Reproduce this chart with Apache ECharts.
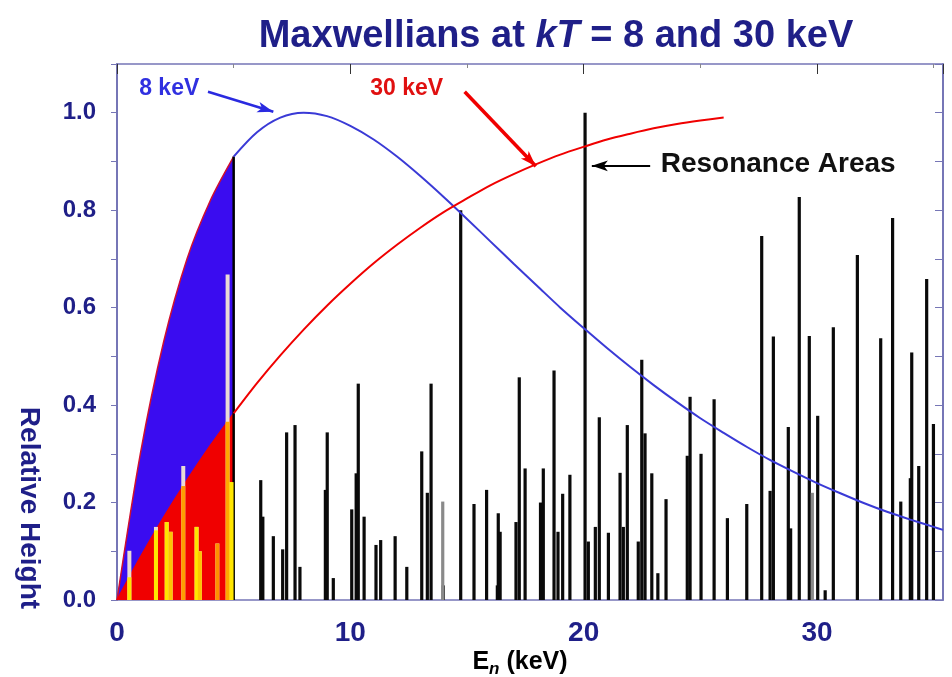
<!DOCTYPE html>
<html><head><meta charset="utf-8">
<script src="https://cdn.jsdelivr.net/npm/echarts@6/dist/echarts.min.js"></script>
<style>html,body{margin:0;padding:0;background:#fff}#c{width:952px;height:677px}</style>
</head><body><div id="c"></div>
<script>
// ---- data ----
const curveE   = [0,1,2,3,4,5,6,7,8,9,10,11,12,13,14,15,16,17,18,19,20,21,22,23,24,25,26,27,28,29,30,31,32,33,34,35,35.4];
const maxw8keV = [0,0.30,0.53,0.70,0.82,0.91,0.96,0.99,1.0,0.993,0.973,0.945,0.91,0.87,0.827,0.782,0.736,0.69,0.645,0.60,0.558,0.517,0.478,0.441,0.406,0.373,0.343,0.314,0.287,0.263,0.24,0.219,0.199,0.181,0.165,0.15,0.144];
const curve30E  = [0,1,2,3,4,5,6,7,8,9,10,11,12,13,14,15,16,17,18,19,20,21,22,23,24,25,26];
const maxw30keV = [0,0.088,0.17,0.246,0.317,0.383,0.445,0.502,0.555,0.604,0.649,0.691,0.729,0.764,0.796,0.824,0.851,0.874,0.895,0.914,0.93,0.945,0.957,0.968,0.977,0.984,0.99];
const fillLimitE = 5;           // shaded region 0..5 keV
const edgeHeight = 0.91;        // black boundary line at 5 keV

// low-energy resonances (yellow)
const lowResE = [0.53,1.67,2.13,2.30,2.84,3.41,3.55,4.30,4.74,4.91];
const lowResH = [0.101,0.150,0.160,0.140,0.275,0.150,0.100,0.116,0.668,0.242];

// resonances above 5 keV (black)
const resE = [6.16,6.25,6.70,7.10,7.27,7.63,7.84,8.93,9.01,9.27,10.06,10.25,10.34,10.59,11.10,11.30,11.92,12.42,13.06,13.30,13.46,13.98,14.73,15.30,15.84,16.30,16.34,16.42,17.10,17.24,17.49,18.15,18.27,18.73,18.90,19.10,19.41,20.06,20.20,20.50,20.67,21.06,21.56,21.70,21.87,22.34,22.49,22.63,22.92,23.18,23.53,24.44,24.56,25.03,25.59,26.16,26.99,27.63,27.99,28.13,28.77,28.87,29.24,29.67,30.03,30.35,30.70,31.73,32.73,33.24,33.59,34.00,34.06,34.36,34.70,34.99];
const resH = [0.246,0.171,0.131,0.104,0.344,0.359,0.068,0.226,0.344,0.045,0.186,0.26,0.444,0.171,0.113,0.123,0.131,0.068,0.305,0.22,0.444,0.03,0.80,0.197,0.226,0.03,0.178,0.14,0.16,0.457,0.270,0.20,0.270,0.471,0.14,0.218,0.257,1.0,0.12,0.15,0.375,0.138,0.261,0.15,0.359,0.120,0.493,0.342,0.260,0.055,0.207,0.296,0.417,0.300,0.412,0.168,0.197,0.747,0.224,0.541,0.355,0.147,0.827,0.542,0.378,0.02,0.560,0.708,0.537,0.784,0.202,0.25,0.508,0.275,0.659,0.361];
// faint (grey) resonances
const greyResE = [13.96,29.80];
const greyResH = [0.202,0.22];

// tick labels
const xTicks = [0,10,20,30];
const yTicks = [0.0,0.2,0.4,0.6,0.8,1.0];

// ---- styles (kept apart from data) ----
const AX = '#7676b6', NAVY = '#1f1f88';
const BLUE_FILL = '#3a0cf0', BLUE_LINE = '#3a3ad6', RED = '#f00000';
const lowResColors = ['#ffe600','#ffe600','#ffe600','#ffc400','#ff9c00','#ffe600','#ffc400','#ff9000','#ffa800','#ffe600'];
const FONT = '"Liberation Sans",Arial,sans-serif';

const chart = echarts.init(document.getElementById('c'), null, {renderer:'canvas'});

const pts8 = curveE.map((e,i)=>[e,maxw8keV[i]]);
const pts30 = curve30E.map((e,i)=>[e,maxw30keV[i]]);
function interp30(e){
  for(let i=1;i<curve30E.length;i++){
    if(e<=curve30E[i]){const t=(e-curve30E[i-1])/(curve30E[i]-curve30E[i-1]);return maxw30keV[i-1]+t*(maxw30keV[i]-maxw30keV[i-1]);}
  }
  return maxw30keV[maxw30keV.length-1];
}
function barSeries(name, data, width, colorFn, z){
  return {type:'custom', name, clip:true, z, silent:true, xAxisIndex:0, yAxisIndex:0,
    data, encode:{x:0,y:1},
    renderItem:(params, api)=>{
      const x=api.value(0), h=api.value(1);
      const p0=api.coord([x,0]), p1=api.coord([x,h]);
      return {type:'rect', shape:{x:p0[0]-width/2, y:p1[1], width, height:p0[1]-p1[1]},
        style:{fill: colorFn(params.dataIndex)}};
    }};
}

const option = {
  animation:false,
  backgroundColor:'#fff',
  title:{
    text:'{a|Maxwellians at }{b|kT}{a| = 8 and 30 keV}',
    left:551, top:13, textAlign:'center',
    textStyle:{rich:{
      a:{fontFamily:FONT,fontWeight:'bold',fontSize:38,color:NAVY},
      b:{fontFamily:FONT,fontWeight:'bold',fontStyle:'italic',fontSize:38,color:NAVY}
    }}
  },
  grid:{left:117, right:9, top:64, bottom:77, containLabel:false},
  xAxis:[
    {type:'value', position:'bottom', min:0, max:35.4, interval:10,
     axisLine:{show:true,onZero:false,lineStyle:{color:AX,width:1.5}},
     axisTick:{show:false}, splitLine:{show:false},
     axisLabel:{margin:19, color:NAVY, fontFamily:FONT, fontWeight:'bold', fontSize:28, showMaxLabel:false,
       formatter:v=> xTicks.includes(v)? String(v):''}},
    {type:'value', position:'top', min:0, max:35.4, interval:10,
     axisLine:{show:true,onZero:false,lineStyle:{color:AX,width:1.5}},
     axisTick:{show:true,inside:true,length:10,lineStyle:{color:'#333',width:1}},
     minorTick:{show:true,splitNumber:2,length:4,lineStyle:{color:'#888'}},
     axisLabel:{show:false}, splitLine:{show:false}}
  ],
  yAxis:[
    {type:'value', position:'left', min:0, max:1.1, interval:0.2,
     axisLine:{show:true,onZero:false,lineStyle:{color:AX,width:2}},
     axisTick:{show:true,inside:false,length:6,lineStyle:{color:AX}},
     minorTick:{show:true,splitNumber:2,length:6,lineStyle:{color:AX}},
     splitLine:{show:false},
     axisLabel:{margin:21, color:NAVY, fontFamily:FONT, fontWeight:'bold', fontSize:24, showMaxLabel:false,
       formatter:v=>{const f=yTicks.find(t=>Math.abs(t-v)<1e-6);return f===undefined?'':f.toFixed(1);}}},
    {type:'value', position:'right', min:0, max:1.1, interval:0.1,
     axisLine:{show:true,onZero:false,lineStyle:{color:AX,width:2}},
     axisTick:{show:true,inside:true,length:8,lineStyle:{color:AX}},
     axisLabel:{show:false}, splitLine:{show:false}}
  ],
  series:[
    {type:'line', name:'8 keV fill', data:pts8.filter(p=>p[0]<=fillLimitE), smooth:0.3, showSymbol:false, z:1,
     lineStyle:{color:'#d01030',width:1.5}, areaStyle:{color:BLUE_FILL,opacity:1}, silent:true},
    {type:'line', name:'30 keV fill', data:pts30.filter(p=>p[0]<=fillLimitE), smooth:0.3, showSymbol:false, z:1,
     lineStyle:{color:RED,width:1.5}, areaStyle:{color:RED,opacity:1}, silent:true},
    barSeries('low res pale', lowResE.map((e,i)=>[e,lowResH[i]]), 4, ()=> '#eadbd6', 2),
    barSeries('low res', lowResE.map((e,i)=>[e,Math.min(lowResH[i], interp30(e))]), 4, i=>lowResColors[i], 2),
    barSeries('edge', [[fillLimitE, edgeHeight]], 2.5, ()=> '#000', 2),
    barSeries('low res edge', [[lowResE[lowResE.length-1], lowResH[lowResH.length-1]]], 4, ()=> '#ffe600', 2),
    barSeries('resonances', resE.map((e,i)=>[e,resH[i]]), 3.2, ()=> '#0a0a0a', 2),
    barSeries('grey resonances', greyResE.map((e,i)=>[e,greyResH[i]]), 3.2, ()=> '#8a8a8a', 2),
    {type:'line', name:'8 keV', data:pts8.filter(p=>p[0]>=fillLimitE), smooth:0.3, showSymbol:false, z:3,
     lineStyle:{color:BLUE_LINE,width:2}, silent:true,
     markLine:{silent:true, animation:false, label:{show:false}, symbol:['none','arrow'],
       data:[
         [{coord:[3.9,1.043],lineStyle:{color:'#2a2ae0',width:2.5,type:'solid'},symbolSize:16},{coord:[6.7,1.002]}],
         [{coord:[14.9,1.043],lineStyle:{color:RED,width:3.5,type:'solid'},symbolSize:26},{coord:[17.95,0.89]}],
         [{coord:[22.85,0.891],lineStyle:{color:'#000',width:2,type:'solid'},symbolSize:14},{coord:[20.35,0.891]}]
       ]}},
    {type:'line', name:'30 keV', data:pts30.filter(p=>p[0]>=fillLimitE), smooth:0.3, showSymbol:false, z:3,
     lineStyle:{color:RED,width:2}, silent:true}
  ]
};
chart.setOption(option);

// annotations anchored to data coordinates
const px = (x,y)=>chart.convertToPixel({gridIndex:0},[x,y]);
const a8 = px(0.95,1.05), a30 = px(10.85,1.05), aRes = px(23.3,0.895);
chart.setOption({graphic:[
  {type:'text', x:a8[0], y:a8[1], style:{text:'8 keV', fill:'#3030e0', font:'bold 23px '+FONT, verticalAlign:'middle'}},
  {type:'text', x:a30[0], y:a30[1], style:{text:'30 keV', fill:'#e01010', font:'bold 23px '+FONT, verticalAlign:'middle'}},
  {type:'text', x:aRes[0], y:aRes[1], style:{text:'Resonance Areas', fill:'#111', font:'bold 28px '+FONT, verticalAlign:'middle'}},
  {type:'text', x:29, y:508, rotation:-Math.PI/2, style:{text:'Relative Height', fill:NAVY, font:'bold 28px '+FONT, align:'center', verticalAlign:'middle'}},
  {type:'text', x:520, y:662, style:{text:'{e|E}{s|n}{e| (keV)}', align:'center', verticalAlign:'middle',
     rich:{e:{fontFamily:FONT,fontWeight:'bold',fontSize:25,color:NAVY,lineHeight:28},
           s:{fontFamily:FONT,fontWeight:'bold',fontStyle:'italic',fontSize:17,color:NAVY,lineHeight:28,padding:[14,0,0,0]}}}}
]});
</script></body></html>
